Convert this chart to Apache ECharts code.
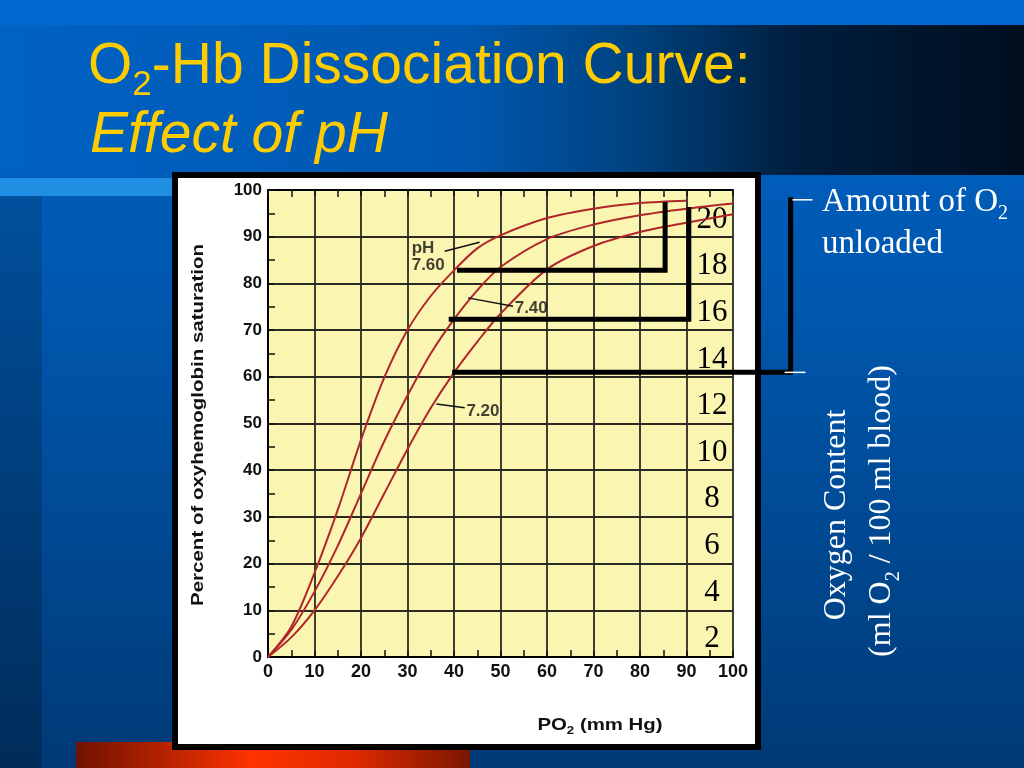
<!DOCTYPE html>
<html><head><meta charset="utf-8">
<script src="https://cdn.jsdelivr.net/npm/echarts/dist/echarts.min.js"></script>
<style>html,body{margin:0;padding:0;background:#0058b0;overflow:hidden}#c{width:1024px;height:768px}</style>
</head><body><div id="c"></div>
<script>
// ---- data ----
const po2 = [0, 5, 10, 15, 20, 25, 30, 35, 40, 45, 50, 60, 70, 80, 90, 100];
const sat760 = [0, 6.5, 18, 31.5, 46.5, 59.8, 70, 77.3, 82.8, 87.5, 90.3, 94, 96, 97.2, 97.7];
const sat740 = [0, 5.8, 14, 23.8, 35, 46.2, 56, 65, 72.3, 78.5, 83.5, 89.5, 92.6, 94.6, 96, 97.1];
const sat720 = [0, 4.2, 10, 17.3, 25.5, 35, 44.5, 53.3, 60.9, 67.5, 73.5, 83, 88, 91, 93, 94.8];
const phNames = ['pH\n7.60', '7.40', '7.20'];
// unloading brackets (PO2, % saturation)
const unload760 = [[41.2, 82.8], [85.4, 82.8], [85.4, 96.9]];
const unload740 = [[39.4, 72.3], [90.5, 72.3], [90.5, 95.8]];
const unload720 = [[40.15, 60.95], [112.4, 60.95], [112.4, 97.9]];
const bracketTop = [[112.8, 97.9], [117.1, 97.9]];
const bracketBottom = [[111.1, 60.95], [115.6, 60.95]];
// arrow annotations (from, to)
const arrow760 = [[38.0, 86.9], [45.5, 88.8]];
const arrow740 = [[52.7, 75.1], [43.0, 76.9]];
const arrow720 = [[42.3, 53.35], [36.2, 54.2]];
const labelPos = [[30.9, 85.8], [53.05, 74.6], [42.67, 52.6]];

const pairs = (ys) => ys.map((y, i) => [po2[i], y]);
const chart = echarts.init(document.getElementById('c'), null, {renderer: 'canvas', width: 1024, height: 768});
const SANS = 'Liberation Sans, Arial, sans-serif';
const SERIF = 'Liberation Serif, Times New Roman, serif';
const RED = '#B1262B';
const G = echarts.graphic;

function curve(name, ys, arrow) {
  return {
    name, type: 'line', data: pairs(ys), xAxisIndex: 0, yAxisIndex: 0,
    smooth: 0.3, showSymbol: false, symbol: 'none', z: 3,
    lineStyle: {color: RED, width: 2},
    markLine: {
      silent: true, symbol: ['none', 'arrow'], symbolSize: [0, 9],
      lineStyle: {color: '#111', width: 1.5, type: 'solid'},
      label: {show: false},
      data: [[{coord: arrow[0]}, {coord: arrow[1]}]]
    }
  };
}
// brackets live on an extended (0..120) copy of the PO2 scale so they can run past the plot edge
function blackLine(data) {
  return {type: 'line', data, xAxisIndex: 3, yAxisIndex: 2, clip: false, showSymbol: false, symbol: 'none', z: 5,
    lineStyle: {color: '#000', width: 5, cap: 'square', join: 'miter'}};
}
function whiteLine(data) {
  return {type: 'line', data, xAxisIndex: 3, yAxisIndex: 2, clip: false, showSymbol: false, symbol: 'none', z: 5,
    lineStyle: {color: '#fff', width: 1.5}};
}

const option = {
  animation: false,
  backgroundColor: 'transparent',
  grid: [
    {left: 268, top: 190, width: 465, height: 467, show: true, backgroundColor: '#FBF5B2', borderWidth: 0},
    {left: 740, top: 219.5, width: 10, height: 466.4, show: false},
    {left: 268, top: 190, width: 558, height: 467, show: false}
  ],
  xAxis: [
    {type: 'value', gridIndex: 0, min: 0, max: 100, interval: 10, position: 'bottom',
     axisLine: {show: true, onZero: false, lineStyle: {color: '#000', width: 2}},
     axisTick: {show: true, inside: true, length: 6, lineStyle: {color: '#111', width: 1.5}},
     minorTick: {show: true, splitNumber: 2, length: 7, lineStyle: {color: '#111', width: 1.5}},
     splitLine: {show: true, lineStyle: {color: '#2a2a22', width: 1.8}},
     axisLabel: {color: '#111', fontFamily: SANS, fontWeight: 'bold', fontSize: 18, margin: 6}},
    {type: 'value', gridIndex: 0, min: 0, max: 100, interval: 10, position: 'top',
     axisLine: {show: true, onZero: false, lineStyle: {color: '#000', width: 2}},
     axisTick: {show: true, inside: true, length: 6, lineStyle: {color: '#111', width: 1.5}},
     minorTick: {show: true, splitNumber: 2, length: 7, lineStyle: {color: '#111', width: 1.5}},
     splitLine: {show: false}, axisLabel: {show: false}},
    {type: 'value', gridIndex: 1, min: 0, max: 1, show: false},
    {type: 'value', gridIndex: 2, min: 0, max: 120, show: false}
  ],
  yAxis: [
    {type: 'value', gridIndex: 0, min: 0, max: 100, interval: 10,
     axisLine: {show: true, onZero: false, lineStyle: {color: '#000', width: 2}},
     axisTick: {show: true, inside: true, length: 6, lineStyle: {color: '#111', width: 1.5}},
     minorTick: {show: true, splitNumber: 2, length: 7, lineStyle: {color: '#111', width: 1.5}},
     splitLine: {show: true, lineStyle: {color: '#2a2a22', width: 1.8}},
     axisLabel: {color: '#111', fontFamily: SANS, fontWeight: 'bold', fontSize: 17, margin: 6}},
    {type: 'value', gridIndex: 1, min: 0, max: 20, interval: 2, position: 'left',
     axisLine: {show: false}, axisTick: {show: false}, splitLine: {show: false},
     axisLabel: {show: true, showMinLabel: false, color: '#000', fontFamily: SERIF, fontSize: 31, margin: 28, align: 'center'}},
    {type: 'value', gridIndex: 2, min: 0, max: 100, show: false}
  ],
  series: [
    curve('7.60', sat760, arrow760),
    curve('7.40', sat740, arrow740),
    curve('7.20', sat720, arrow720),
    blackLine(unload760), blackLine(unload740), blackLine(unload720),
    whiteLine(bracketTop), whiteLine(bracketBottom),
    {type: 'scatter', xAxisIndex: 0, yAxisIndex: 0, symbolSize: 0, z: 6, silent: true,
     data: labelPos.map((p, i) => ({value: p, name: phNames[i]})),
     label: {show: true, position: 'inside', align: 'left', verticalAlign: 'middle', formatter: (p) => p.name,
       color: '#111', fontFamily: SANS, fontWeight: 'bold', fontSize: 17, lineHeight: 17}}
  ],
  graphic: [
    {type: 'rect', z: -10, shape: {x: 0, y: 0, width: 1024, height: 768},
     style: {fill: new G.LinearGradient(0, 0, 0, 1, [{offset: 0, color: '#0064C8'}, {offset: 0.4, color: '#0057AE'}, {offset: 1, color: '#003A76'}])}},
    {type: 'rect', z: -9, shape: {x: 0, y: 196, width: 42, height: 572},
     style: {fill: new G.LinearGradient(0, 0, 0, 1, [{offset: 0, color: '#004F9C'}, {offset: 1, color: '#002C5A'}])}},
    {type: 'rect', z: -9, shape: {x: 0, y: 0, width: 1024, height: 25}, style: {fill: '#0068CF'}},
    {type: 'rect', z: -9, shape: {x: 0, y: 25, width: 1024, height: 150},
     style: {fill: new G.LinearGradient(0, 0, 1, 0, [{offset: 0, color: '#0062C4'}, {offset: 0.45, color: '#0058B0'}, {offset: 0.62, color: '#00427F'}, {offset: 0.78, color: '#001E3D'}, {offset: 1, color: '#000E1E'}])}},
    {type: 'rect', z: -9, shape: {x: 0, y: 178, width: 172, height: 18}, style: {fill: '#1E8FE3'}},
    {type: 'rect', z: -9, shape: {x: 76, y: 742, width: 394, height: 26},
     style: {fill: new G.LinearGradient(0, 0, 1, 0, [{offset: 0, color: '#6E1200'}, {offset: 0.45, color: '#FF3300'}, {offset: 0.7, color: '#E02A00'}, {offset: 1, color: '#7A1600'}])}},
    {type: 'rect', z: -5, shape: {x: 175, y: 175, width: 583, height: 572}, style: {fill: '#FFFFFF', stroke: '#000', lineWidth: 6}},
    // title
    {type: 'text', z: 50, x: 88, y: 31, style: {
      text: '{a|O}{s|2}{a|-Hb Dissociation Curve:}',
      rich: {a: {fontFamily: SANS, fontSize: 57, lineHeight: 72, fill: '#FFCC00'},
             s: {fontFamily: SANS, fontSize: 35, lineHeight: 35, verticalAlign: 'bottom', fill: '#FFCC00'}}}},
    {type: 'text', z: 50, x: 90, y: 100, style: {
      text: '{a|Effect of pH}',
      rich: {a: {fontFamily: SANS, fontStyle: 'italic', fontSize: 57, lineHeight: 72, fill: '#FFCC00'}}}},
    // right side texts
    {type: 'text', z: 50, x: 822, y: 180, style: {
      text: '{a|Amount of O}{s|2}',
      rich: {a: {fontFamily: SERIF, fontSize: 33, lineHeight: 44, fill: '#FFFFFF'},
             s: {fontFamily: SERIF, fontSize: 20, lineHeight: 20, verticalAlign: 'bottom', fill: '#FFFFFF'}}}},
    {type: 'text', z: 50, x: 822, y: 244, style: {text: 'unloaded', fontFamily: SERIF, fontSize: 33, fill: '#FFFFFF', verticalAlign: 'middle'}},
    {type: 'text', z: 50, x: 837, y: 515, rotation: Math.PI / 2, style: {
      text: 'Oxygen Content', fontFamily: SERIF, fontSize: 32, fill: '#FFFFFF', align: 'center', verticalAlign: 'middle'}},
    {type: 'text', z: 50, x: 882, y: 511, rotation: Math.PI / 2, style: {
      text: '{a|(ml O}{s|2}{a| / 100 ml blood)}', align: 'center', verticalAlign: 'middle',
      rich: {a: {fontFamily: SERIF, fontSize: 32, lineHeight: 44, fill: '#FFFFFF'},
             s: {fontFamily: SERIF, fontSize: 20, lineHeight: 20, verticalAlign: 'bottom', fill: '#FFFFFF'}}}},
    // axis names
    {type: 'text', z: 50, x: 199, y: 425, rotation: Math.PI / 2, scaleX: 1.28, style: {
      text: 'Percent of oxyhemoglobin saturation', fontFamily: SANS, fontWeight: 'bold', fontSize: 16,
      fill: '#111', align: 'center', verticalAlign: 'middle'}},
    {type: 'text', z: 50, x: 600, y: 725, scaleX: 1.2, style: {
      text: '{a|PO}{s|2}{a| (mm Hg)}', align: 'center', verticalAlign: 'middle',
      rich: {a: {fontFamily: SANS, fontWeight: 'bold', fontSize: 17, lineHeight: 22, fill: '#111'},
             s: {fontFamily: SANS, fontWeight: 'bold', fontSize: 11, lineHeight: 11, verticalAlign: 'bottom', fill: '#111'}}}}
  ]
};
chart.setOption(option);
</script>
</body></html>
